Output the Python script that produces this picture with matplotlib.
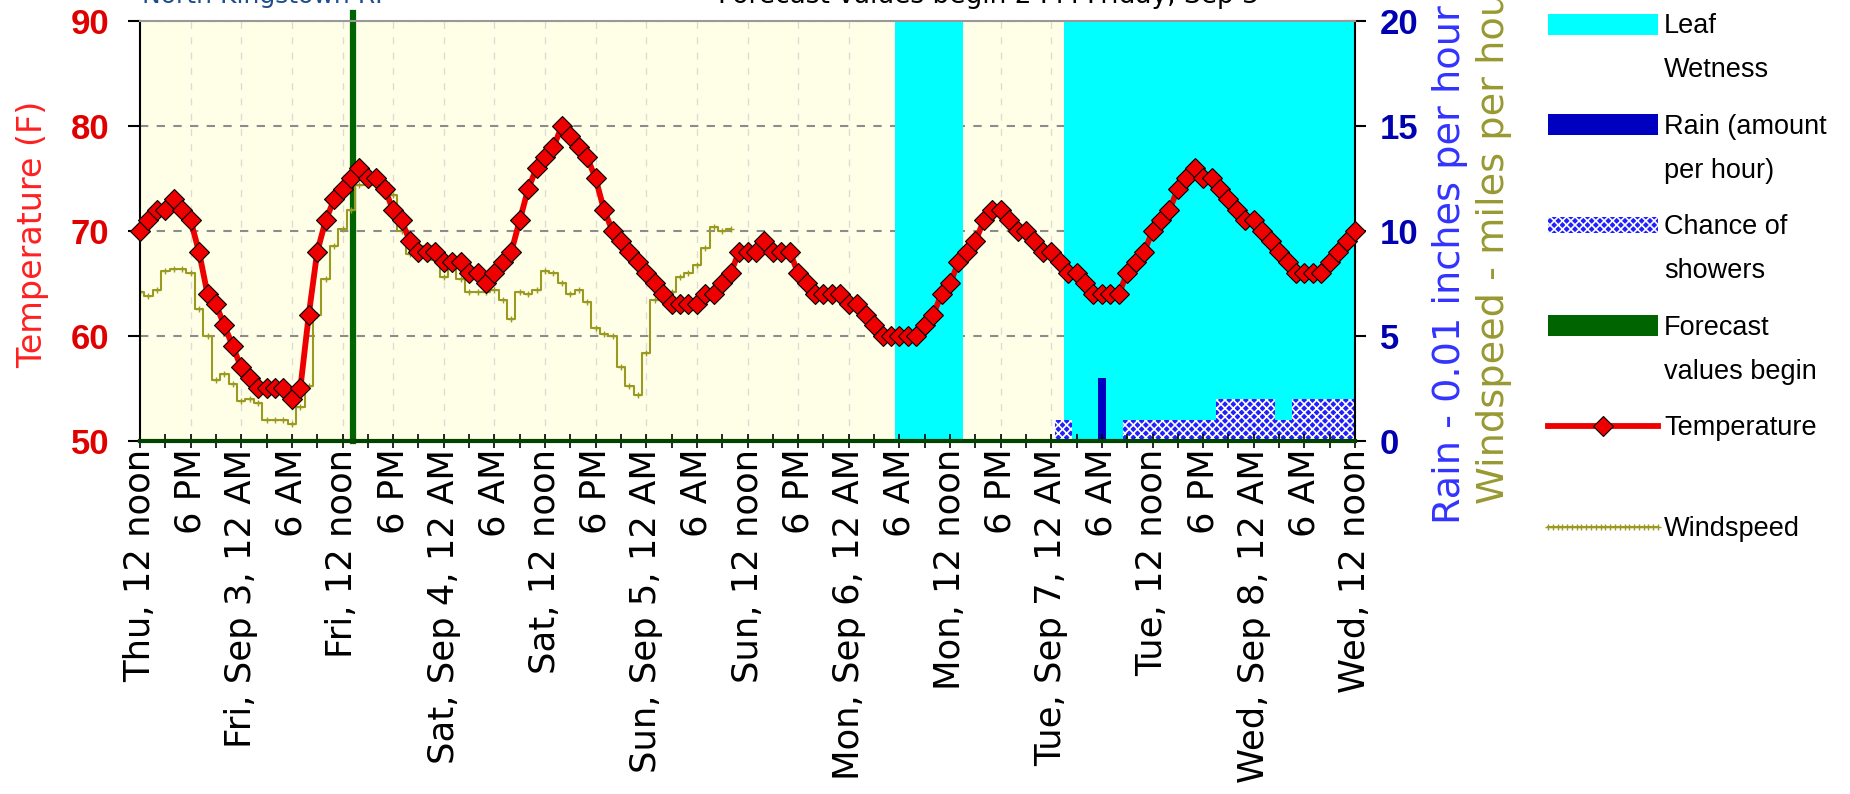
import matplotlib
matplotlib.use('Agg')
import matplotlib.pyplot as plt
import numpy as np
from matplotlib.patches import Rectangle

# hourly values, hour 0 = Thu 12 noon
temp_f = [70, 71, 72, 72, 73, 72, 71, 68, 64, 63, 61, 59, 57, 56, 55, 55, 55, 55, 54, 55,
          62, 68, 71, 73, 74, 75, 76, 75, 75, 74, 72, 71, 69, 68, 68, 68, 67, 67, 67, 66,
          66, 65, 66, 67, 68, 71, 74, 76, 77, 78, 80, 79, 78, 77, 75, 72, 70, 69, 68, 67,
          66, 65, 64, 63, 63, 63, 63, 64, 64, 65, 66, 68, 68, 68, 69, 68, 68, 68, 66, 65,
          64, 64, 64, 64, 63, 63, 62, 61, 60, 60, 60, 60, 60, 61, 62, 64, 65, 67, 68, 69,
          71, 72, 72, 71, 70, 70, 69, 68, 68, 67, 66, 66, 65, 64, 64, 64, 64, 66, 67, 68,
          70, 71, 72, 74, 75, 76, 75, 75, 74, 73, 72, 71, 71, 70, 69, 68, 67, 66, 66, 66,
          66, 67, 68, 69, 70]

wind_mph = [7.1, 6.9, 7.2, 8.1, 8.2, 8.2, 8.0, 6.3, 5.0, 2.9, 3.2, 2.7, 1.9, 2.0, 1.8, 1.0, 1.0, 1.0, 0.8, 1.6,
            2.6, 6.0, 7.7, 9.3, 10.1, 11.0, 12.2, 12.2, 12.2, 12.3, 11.7, 10.0, 8.9, 8.9, 9.3, 8.6, 7.8, 8.2, 7.7, 7.1,
            7.1, 7.1, 7.2, 6.7, 5.8, 7.1, 7.0, 7.2, 8.1, 8.0, 7.5, 7.0, 7.2, 6.6, 5.4, 5.1, 5.0, 3.5, 2.6, 2.2,
            4.2, 6.7, 7.2, 7.1, 7.8, 8.0, 8.4, 9.2, 10.2, 10.0, 10.1]

leaf_start = [89.5, 109.5]
leaf_end = [97.5, 144]

shower_start = [108.5, 116.5, 127.5, 134.5, 136.5]
shower_end = [110.5, 127.5, 134.5, 136.5, 144]
shower_val = [1, 1, 2, 1, 2]

rain_hour = [114]
rain_amt = [3]

forecast_hour = 25.2

x_labels = ['Thu, 12 noon', '6 PM', 'Fri, Sep 3, 12 AM', '6 AM',
            'Fri, 12 noon', '6 PM', 'Sat, Sep 4, 12 AM', '6 AM',
            'Sat, 12 noon', '6 PM', 'Sun, Sep 5, 12 AM', '6 AM',
            'Sun, 12 noon', '6 PM', 'Mon, Sep 6, 12 AM', '6 AM',
            'Mon, 12 noon', '6 PM', 'Tue, Sep 7, 12 AM', '6 AM',
            'Tue, 12 noon', '6 PM', 'Wed, Sep 8, 12 AM', '6 AM',
            'Wed, 12 noon']

legend_labels = ['Leaf\nWetness', 'Rain (amount\nper hour)', 'Chance of\nshowers',
                 'Forecast\nvalues begin', 'Temperature', 'Windspeed']

arial = ['Liberation Sans', 'DejaVu Sans']
W, H = 1850, 794

fig = plt.figure(figsize=(W / 100, H / 100), dpi=100)
fig.patch.set_facecolor('white')
ax = fig.add_axes([140 / W, 1 - 441 / H, 1215 / W, 420 / H])
ax2 = ax.twinx()
ax.set_zorder(ax2.get_zorder() + 1)
ax.patch.set_visible(False)
ax2.patch.set_visible(True)
ax2.set_facecolor('#ffffe8')

xt = np.arange(0, 145, 6)

# background stuff on the right-hand axis
ax2.set_axisbelow(True)
ax2.yaxis.grid(True, color='#8c8c8c', linestyle=(0, (4, 4)), linewidth=1.5)
for t in xt[1:-1]:
    ax2.axvline(t, color='#dcdcd4', linestyle=(0, (5, 6)), linewidth=1, zorder=0.6)

for s, e in zip(leaf_start, leaf_end):
    ax2.axvspan(s, e, color='#00ffff', lw=0, zorder=1)

plt.rcParams['hatch.linewidth'] = 1.2
ax2.bar(shower_start, shower_val, width=np.array(shower_end) - np.array(shower_start),
        align='edge', facecolor='#2020ff', edgecolor='white', hatch='xxxx', lw=0, zorder=2)
ax2.bar(rain_hour, rain_amt, width=0.9, color='#0000c0', zorder=3)
ax2.axvline(forecast_hour, ymin=0, ymax=1.02, color='#006400', lw=4.5, zorder=3, clip_on=False)

ax2.plot(np.arange(len(wind_mph)), wind_mph, drawstyle='steps-mid', color='#9a9a22',
         lw=1.5, marker='+', ms=5, mew=1, zorder=4)

ax.plot(np.arange(len(temp_f)), temp_f, color='#ee0000', lw=4.2, marker='D', ms=10.5,
        mfc='#ee0000', mec='black', mew=0.8, zorder=5, clip_on=False)

ax.set_xlim(0, 144)
ax.set_ylim(50, 90)
ax2.set_ylim(0, 20)

ax.set_xticks(xt)
ax.set_xticks(np.arange(0, 145, 3), minor=True)
ax.set_xticklabels(x_labels, rotation=90, fontsize=25.5, color='black')
ax.tick_params(axis='x', which='both', direction='inout', length=10, width=1.2, pad=0.5)

ax.set_yticks([50, 60, 70, 80, 90])
ax.set_yticklabels(['50', '60', '70', '80', '90'], fontsize=25, fontweight='bold',
                   color='#e00000', family=arial)
ax.tick_params(axis='y', direction='out', length=9, width=1.5, pad=13)

ax2.set_yticks([0, 5, 10, 15, 20])
ax2.set_yticklabels(['0', '5', '10', '15', '20'], fontsize=25, fontweight='bold',
                    color='#0000b0', family=arial)
ax2.tick_params(axis='y', direction='inout', length=16, width=1.5, pad=10)

for side in ['left', 'right', 'top', 'bottom']:
    ax2.spines[side].set_visible(False)
ax.spines['left'].set_color('black')
ax.spines['left'].set_linewidth(1.5)
ax.spines['right'].set_color('black')
ax.spines['right'].set_linewidth(1.5)
ax.spines['top'].set_color('#999999')
ax.spines['top'].set_linewidth(1.5)
ax.spines['bottom'].set_color('#004400')
ax.spines['bottom'].set_linewidth(3)

fig.text(33 / W, 1 - 234 / H, 'Temperature (F)', rotation=90, color='#ff2020',
         fontsize=24, ha='center', va='center')
fig.text(1450 / W, 1 - 265 / H, 'Rain - 0.01 inches per hour', rotation=90,
         color='#3333ff', fontsize=27.5, ha='center', va='center')
fig.text(1494 / W, 1 - 240 / H, 'Windspeed - miles per hour', rotation=90,
         color='#999933', fontsize=27.5, ha='center', va='center')
fig.text(142 / W, 1 - 3 / H, 'North Kingstown RI', color='#1f4e8c', fontsize=18,
         va='baseline')
fig.text(988 / W, 1 - 3 / H, 'Forecast values begin 2 PM Friday, Sep 3', color='black',
         fontsize=19, ha='center', va='baseline')

# legend, drawn by hand in pixel coords
lax = fig.add_axes([0, 0, 1, 1])
lax.set_xlim(0, W)
lax.set_ylim(H, 0)
lax.axis('off')
lax.set_zorder(10)
kx0, kx1 = 1548, 1658
for i, lab in enumerate(legend_labels):
    y = 24 + i * 100.6
    if i == 0:
        lax.add_patch(Rectangle((kx0, y - 10.5), kx1 - kx0, 21, color='#00ffff', lw=0))
    elif i == 1:
        lax.add_patch(Rectangle((kx0, y - 10.5), kx1 - kx0, 21, color='#0000c0', lw=0))
    elif i == 2:
        lax.add_patch(Rectangle((kx0, y - 8), kx1 - kx0, 16, facecolor='#2020ff',
                                edgecolor='white', hatch='xxxx', lw=0))
    elif i == 3:
        lax.add_patch(Rectangle((kx0, y - 10.5), kx1 - kx0, 21, color='#006400', lw=0))
    elif i == 4:
        lax.plot([kx0, kx1], [y, y], color='#ee0000', lw=4.2)
        lax.plot([(kx0 + kx1) / 2], [y], marker='D', ms=10.5, mfc='#ee0000', mec='black', mew=0.8)
    else:
        xs = np.linspace(kx0, kx1, 24)
        lax.plot(xs, [y] * len(xs), color='#9a9a22', lw=1.5, marker='+', ms=4)
    for j, line in enumerate(lab.split('\n')):
        lax.text(1664, y + 2 + j * 44, line, fontsize=19.5, family=arial, color='black',
                 va='center', ha='left')

plt.savefig('out.png', dpi=100)
